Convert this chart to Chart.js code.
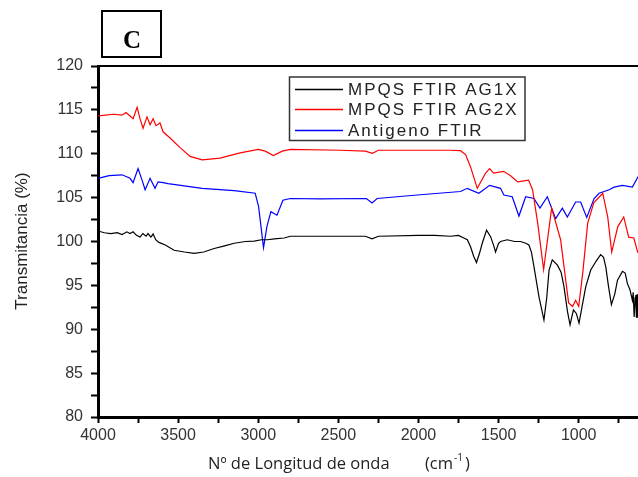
<!DOCTYPE html>
<html>
<head>
<meta charset="utf-8">
<script src="https://cdn.jsdelivr.net/npm/chart.js@4.4.1/dist/chart.umd.min.js"></script>
<style>
  html, body { margin: 0; padding: 0; background: #fff; }
  #wrap { width: 638px; height: 477px; }
</style>
</head>
<body>
<div id="wrap"><canvas id="ftirChart" width="638" height="477"></canvas></div>
<script>
const panelLabel = 'C';
const yTitle = 'Transmitancia (%)';
const xTitle = 'Nº de Longitud de onda';
const xUnit = '(cm';
const xUnitExp = '-1';
const seriesNames = ['MPQS FTIR AG1X', 'MPQS FTIR AG2X', 'Antigeno FTIR'];
const seriesColors = ['#000000', '#ff0000', '#0000ff'];

// Nº de onda (cm-1) y transmitancia
const wnAG1X = [4000, 3960, 3920, 3880, 3850, 3820, 3800, 3781, 3760, 3738, 3720, 3700, 3688, 3670, 3656, 3640, 3620, 3580, 3525, 3460, 3400, 3340, 3275, 3210, 3150, 3080, 3025, 2980, 2942, 2900, 2838, 2800, 2600, 2400, 2331, 2290, 2250, 2000, 1900, 1800, 1750, 1717, 1695, 1675, 1655, 1638, 1620, 1602, 1575, 1550, 1530, 1519, 1500, 1488, 1446, 1400, 1363, 1330, 1311, 1295, 1279, 1248, 1217, 1200, 1185, 1165, 1133, 1110, 1092, 1070, 1054, 1033, 1015, 998, 980, 956, 925, 890, 863, 845, 831, 815, 796, 775, 758, 727, 710, 696, 680, 665, 660, 654, 648, 644, 640, 636, 633];
const tAG1X = [101.2, 101.0, 100.9, 101.0, 100.8, 101.1, 100.9, 101.1, 100.7, 100.5, 100.9, 100.6, 100.9, 100.5, 100.85, 100.2, 99.9, 99.6, 99.0, 98.8, 98.65, 98.8, 99.2, 99.5, 99.8, 100.0, 100.05, 100.2, 100.2, 100.3, 100.4, 100.6, 100.6, 100.6, 100.6, 100.3, 100.6, 100.7, 100.7, 100.6, 100.7, 100.4, 100.2, 99.4, 98.3, 97.6, 98.6, 99.8, 101.3, 100.55, 99.5, 98.8, 99.8, 100.0, 100.2, 100.0, 100.0, 99.8, 99.6, 98.8, 97.1, 93.7, 91.05, 93.5, 96.75, 97.9, 97.3, 96.5, 94.85, 92.0, 90.5, 92.2, 91.8, 90.7, 92.5, 94.85, 96.75, 97.8, 98.5, 98.2, 97.1, 95.0, 92.8, 94.0, 95.6, 96.6, 96.4, 95.2, 94.5, 93.3, 94.2, 91.4, 93.6, 93.9, 91.3, 94.0, 91.3];

const wnAG2X = [4000, 3956, 3900, 3850, 3825, 3800, 3781, 3756, 3738, 3719, 3694, 3675, 3656, 3638, 3613, 3594, 3550, 3488, 3425, 3350, 3238, 3113, 3000, 2956, 2906, 2850, 2800, 2488, 2331, 2288, 2250, 2000, 1800, 1738, 1706, 1675, 1633, 1581, 1556, 1531, 1469, 1425, 1381, 1313, 1288, 1256, 1219, 1169, 1113, 1063, 1038, 1019, 1000, 975, 944, 906, 850, 819, 794, 756, 719, 688, 656, 631];
const tAG2X = [114.3, 114.4, 114.5, 114.4, 114.7, 114.3, 114.0, 115.3, 114.0, 112.9, 114.2, 113.3, 114.0, 113.2, 113.5, 112.5, 111.8, 110.7, 109.7, 109.3, 109.5, 110.1, 110.5, 110.3, 109.8, 110.3, 110.5, 110.4, 110.3, 110.05, 110.4, 110.4, 110.4, 110.35, 109.9, 108.5, 106.06, 107.8, 108.3, 107.8, 108.0, 107.5, 106.8, 107.0, 105.9, 102.1, 96.8, 103.8, 100.2, 93.0, 92.6, 93.3, 92.6, 96.4, 102.1, 104.4, 105.5, 102.8, 98.8, 101.7, 102.8, 100.5, 100.4, 98.7];

const wnAntigeno = [4000, 3931, 3850, 3800, 3781, 3750, 3725, 3706, 3675, 3644, 3625, 3594, 3563, 3350, 3150, 3019, 2998, 2967, 2946, 2921, 2883, 2846, 2800, 2613, 2325, 2290, 2258, 2008, 1738, 1696, 1623, 1556, 1488, 1467, 1415, 1373, 1331, 1279, 1242, 1196, 1144, 1102, 1071, 1019, 988, 950, 904, 873, 810, 779, 727, 665, 629];
const tAntigeno = [107.2, 107.5, 107.6, 107.2, 106.7, 108.3, 107.0, 105.9, 107.2, 106.06, 106.8, 106.7, 106.6, 106.06, 105.8, 105.5, 104.0, 99.3, 101.7, 103.4, 103.0, 104.7, 104.9, 104.85, 104.9, 104.4, 104.9, 105.3, 105.7, 106.06, 105.5, 106.4, 106.06, 105.3, 105.1, 102.9, 105.1, 104.9, 103.8, 105.1, 102.6, 103.8, 102.8, 104.5, 104.5, 102.75, 104.9, 105.5, 105.9, 106.2, 106.4, 106.2, 107.4];

const yTicksMajor = [80, 85, 90, 95, 100, 105, 110, 115, 120];
const xTicksMajor = [4000, 3500, 3000, 2500, 2000, 1500, 1000];

function toPoints(xs, ys) {
  return xs.map((x, i) => ({ x: x, y: ys[i] }));
}

const SANS = '"Liberation Sans", Arial, sans-serif';

const decorations = {
  id: 'decorations',
  afterDraw(chart) {
    const { ctx, chartArea } = chart;
    ctx.save();

    // borde superior del marco
    ctx.strokeStyle = '#000';
    ctx.lineWidth = 2;
    ctx.beginPath();
    ctx.moveTo(chartArea.left, chartArea.top);
    ctx.lineTo(chartArea.right, chartArea.top);
    ctx.stroke();

    // recuadro con la letra del panel
    ctx.lineWidth = 2;
    ctx.strokeRect(102, 11, 59, 46);
    ctx.fillStyle = '#000';
    ctx.font = 'bold 25px "Liberation Serif", "Times New Roman", serif';
    ctx.textAlign = 'center';
    ctx.textBaseline = 'alphabetic';
    ctx.fillText(panelLabel, 132, 48);

    // leyenda
    ctx.fillStyle = '#fff';
    ctx.fillRect(289.5, 77, 235.5, 63.5);
    ctx.strokeStyle = '#333';
    ctx.lineWidth = 1.5;
    ctx.strokeRect(289.5, 77, 235.5, 63.5);
    const rows = [89.5, 109.5, 130.5];
    ctx.font = '17px ' + SANS;
    ctx.textAlign = 'left';
    ctx.textBaseline = 'middle';
    ctx.letterSpacing = '2px';
    chart.data.datasets.forEach((ds, i) => {
      ctx.strokeStyle = ds.borderColor;
      ctx.lineWidth = 1.3;
      ctx.beginPath();
      ctx.moveTo(295, rows[i]);
      ctx.lineTo(343, rows[i]);
      ctx.stroke();
      ctx.fillStyle = '#222';
      ctx.fillText(ds.label, 348, rows[i] + 1);
    });
    ctx.letterSpacing = '0px';

    // titulo eje Y
    ctx.save();
    ctx.translate(22, 241);
    ctx.rotate(-Math.PI / 2);
    ctx.font = '17px ' + SANS;
    ctx.textAlign = 'center';
    ctx.textBaseline = 'middle';
    ctx.fillStyle = '#222';
    ctx.fillText(yTitle, 0, 0);
    ctx.restore();

    // titulo eje X con superindice
    ctx.font = '16.5px "Open Sans", sans-serif';
    ctx.textAlign = 'left';
    ctx.textBaseline = 'alphabetic';
    ctx.fillStyle = '#222';
    const baseY = 469;
    ctx.fillText(xTitle, 208, baseY);
    ctx.fillText(xUnit, 425, baseY);
    const unitW = ctx.measureText(xUnit).width;
    ctx.font = '10px "Open Sans", sans-serif';
    ctx.fillText(xUnitExp, 425 + unitW + 1, baseY - 8);
    const expW = ctx.measureText(xUnitExp).width;
    ctx.font = '16.5px "Open Sans", sans-serif';
    ctx.fillText(')', 425 + unitW + expW + 3, baseY);

    ctx.restore();
  }
};

new Chart(document.getElementById('ftirChart'), {
  type: 'line',
  data: {
    datasets: [
      { label: seriesNames[0], data: toPoints(wnAG1X, tAG1X), borderColor: seriesColors[0] },
      { label: seriesNames[1], data: toPoints(wnAG2X, tAG2X), borderColor: seriesColors[1] },
      { label: seriesNames[2], data: toPoints(wnAntigeno, tAntigeno), borderColor: seriesColors[2] }
    ]
  },
  options: {
    responsive: false,
    animation: false,
    devicePixelRatio: 1,
    layout: { padding: { top: 66, right: 0, left: 0, bottom: 0 } },
    elements: {
      line: { borderWidth: 1.2, tension: 0, fill: false },
      point: { radius: 0 }
    },
    plugins: {
      legend: { display: false },
      tooltip: { enabled: false }
    },
    scales: {
      x: {
        type: 'linear',
        reverse: true,
        min: 630,
        max: 4000,
        afterFit(scale) { scale.height = 60; },
        border: { display: true, color: '#000', width: 3 },
        grid: { drawOnChartArea: false, drawTicks: true, tickLength: 6, tickColor: '#000', tickWidth: 2 },
        ticks: {
          stepSize: 250,
          includeBounds: false,
          autoSkip: false,
          maxRotation: 0,
          padding: 3,
          color: '#333',
          font: { family: SANS, size: 16 },
          callback: v => xTicksMajor.includes(v) ? String(v) : ''
        }
      },
      y: {
        min: 80,
        max: 120,
        afterFit(scale) { scale.width = 98; },
        border: { display: true, color: '#000', width: 3 },
        grid: { drawOnChartArea: false, drawTicks: true, tickLength: 7, tickColor: '#000', tickWidth: 2 },
        ticks: {
          stepSize: 2.5,
          autoSkip: false,
          padding: 8,
          color: '#333',
          font: { family: SANS, size: 16 },
          callback: v => yTicksMajor.includes(v) ? String(v) : ''
        }
      }
    }
  },
  plugins: [decorations]
});
</script>
</body>
</html>
